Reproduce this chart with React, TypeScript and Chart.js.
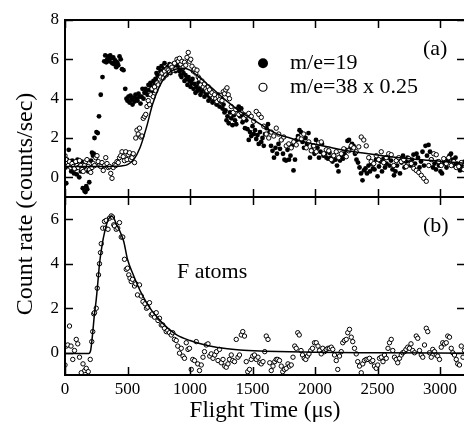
import { useEffect, useRef } from 'react';
import { Chart, registerables } from 'chart.js';

Chart.register(...registerables);

const SERIF = '"Liberation Serif", "Times New Roman", serif';

// ---- axis ticks ----
const xTickValues = [0, 500, 1000, 1500, 2000, 2500, 3000];
const topYTicks = [0, 2, 4, 6, 8];
const bottomYTicks = [0, 2, 4, 6];
const xRange = [0, 3200];
const topYRange = [-1, 8];
const bottomYRange = [-1, 7];

// ---- panel (a): m/e = 19 (filled) ----
const m19: [number, number][] = [
  [4,0.5],[10,-0.3],[16,0.9],[22,0.6],[30,1.4],[36,0.75],[44,0.55],[50,0.3],[58,0.85],[64,0.6],[72,0.2],[80,0.7],[86,0.45],[94,0.15],[100,0.9],[108,0.55],[114,0.0],[120,0.6],[128,0.3],[134,0.8],[142,-0.55],[150,0.5],[156,-0.7],[164,-0.75],[170,-0.45],[178,-0.6],[186,0.3],[194,-0.25],[200,0.5],[208,0.85],[216,1.25],[224,1.1],[230,1.2],[236,2.0],[244,1.1],[252,2.3],[262,2.25],[272,3.1],[286,4.2],[300,5.1],
  [314,5.9],[322,6.2],[330,5.85],[338,6.0],[346,6.15],[354,5.9],[362,6.2],[370,6.05],[378,5.8],[386,6.1],[394,5.75],[402,5.95],[410,5.6],[418,5.85],[426,5.7],[436,6.15],[446,6.0],[456,5.5],[468,5.45],
  [482,4.5],[492,4.0],[500,3.9],[508,4.1],[516,3.8],[524,4.15],[532,3.95],[540,3.7],[548,4.05],[556,3.85],[564,4.2],[572,4.0],[580,3.9],[588,4.25],[596,4.1],[604,3.75],[612,4.1],[620,4.5],[628,4.0],[636,4.3],[644,4.5],[652,4.4],[660,4.2],[668,4.7],[676,4.45],[684,4.8],[692,4.6],[700,4.4],[708,4.9],[716,4.7],[724,5.0],[732,5.3],[740,5.2],[748,5.55],[756,5.1],[764,5.4],[772,5.65],[780,5.3],[788,5.5],[796,5.8],[804,5.5],[812,5.2],[820,5.6],[828,5.45],[836,5.75],[844,5.3],[852,5.6],[860,5.7],[868,5.5],[876,5.8],[884,5.4],[892,5.65],[900,5.55],[908,5.7],[916,5.4],[924,5.2],[932,5.1],[940,5.5],[948,5.3],[956,4.9],[964,5.2],[972,5.0],[980,4.7],[988,5.1],[996,4.9],[1004,4.6],[1012,4.8],[1020,5.0],[1028,4.5],[1036,4.75],[1044,4.3],[1052,4.6],[1060,4.4],[1068,4.8],[1076,4.5],[1084,4.2],[1092,4.35],[1100,4.7],[1108,4.5],[1116,4.1],[1124,4.3],[1132,4.5],[1140,4.2],[1148,3.9],[1156,4.1],[1164,4.4],[1172,4.0],[1180,3.8],[1188,4.2],[1196,3.95],[1204,4.1],[1212,3.7],[1220,3.9],[1228,4.2],[1236,3.6],[1244,3.85],[1252,4.0],[1260,3.5],[1268,3.7],[1276,3.3],[1284,3.4],[1292,2.9],[1300,3.1],[1310,2.75],[1320,3.3],[1330,3.0],[1340,2.65],[1350,3.15],[1360,2.9],[1370,2.7],[1380,3.4],[1390,3.6],[1400,3.1],[1410,3.5],[1420,2.8],[1430,3.2],[1440,2.5],[1450,2.9],[1460,2.45],[1470,1.9],[1480,2.3],[1490,2.1],[1500,2.6],[1510,2.2],[1520,2.4],[1530,1.95],[1540,2.15],[1550,1.7],[1560,2.3],[1570,1.8],[1580,2.0],[1590,1.6],[1600,2.2],[1612,2.5],[1624,2.7],[1636,2.3],[1648,1.6],[1660,1.35],[1672,1.0],[1684,1.5],[1696,1.2],[1708,1.7],[1720,1.45],[1732,1.9],[1744,1.2],[1756,0.9],[1768,0.85],[1780,1.4],[1792,0.9],[1804,1.1],[1816,1.6],[1828,0.35],[1840,0.9],[1852,1.9],[1864,2.1],[1876,2.4],[1888,2.3],[1900,1.8],[1912,1.5],[1924,2.0],[1936,1.7],[1948,2.25],[1960,1.0],[1972,1.4],[1984,1.6],[1996,1.2],[2008,1.9],[2020,1.5],[2032,1.0],[2044,1.3],[2056,1.7],[2068,1.1],[2080,1.2],[2092,1.0],[2104,0.95],[2116,1.25],[2128,1.0],[2140,0.8],[2152,1.1],[2164,0.9],[2176,0.6],[2188,0.3],[2200,0.85],[2212,1.1],[2224,0.95],[2236,1.2],[2248,1.4],[2260,1.85],[2272,1.9],[2284,1.5],[2296,1.7],[2308,1.6],[2320,1.2],[2332,0.9],[2344,0.75],[2356,0.5],[2368,0.2],[2380,-0.15],[2392,0.35],[2404,0.45],[2416,0.2],[2428,0.6],[2440,0.3],[2452,0.7],[2464,0.45],[2476,0.4],[2488,0.9],[2500,0.05],[2512,0.55],[2524,0.8],[2536,0.3],[2548,0.95],[2560,0.5],[2572,0.7],[2584,1.0],[2596,0.6],[2608,0.85],[2620,0.4],[2632,0.1],[2644,0.3],[2656,0.6],[2668,0.9],[2680,0.2],[2692,0.75],[2704,1.1],[2716,0.5],[2728,0.8],[2740,1.0],[2752,0.85],[2764,0.6],[2776,0.9],[2788,1.15],[2800,0.7],[2812,1.2],[2824,1.0],[2836,0.5],[2848,0.8],[2860,1.3],[2872,0.6],[2884,1.6],[2896,1.1],[2908,1.65],[2920,1.3],[2932,0.9],[2944,0.5],[2956,0.7],[2968,0.4],[2980,0.8],[2992,0.6],[3004,0.3],[3016,0.2],[3028,0.7],[3040,0.9],[3052,0.5],[3064,0.8],[3076,1.1],[3088,1.2],[3100,0.9],[3112,0.6],[3124,1.0],[3136,0.7],[3148,0.5],[3160,0.35],[3172,0.6],[3184,0.4],[3196,0.8],
];

// ---- panel (a): m/e = 38 x 0.25 (open) ----
const m38: [number, number][] = [
  [0,1.1],[8,0.9],[16,0.7],[26,0.6],[36,0.8],[46,0.5],[56,0.7],[66,0.55],[76,0.45],[86,0.8],[96,0.6],[106,0.5],[116,0.85],[126,0.6],[136,0.4],[146,0.3],[156,0.6],[166,0.8],[176,0.9],[186,0.55],[196,0.4],[206,0.25],[216,0.5],[226,0.7],[236,0.6],[246,1.0],[256,1.1],[266,0.8],[276,0.6],[286,0.55],[296,0.75],[306,0.35],[316,0.6],[326,1.0],[336,0.7],[346,0.5],[356,0.55],[366,0.2],[376,-0.05],[386,0.5],[396,0.65],[406,0.6],[416,0.8],[426,0.75],[436,1.0],[446,1.1],[456,1.3],[466,1.05],[476,0.85],[486,1.3],[496,0.9],[506,1.15],[516,1.25],[526,0.9],[536,1.0],[546,1.2],[556,0.75],[566,2.0],[576,2.4],[586,2.2],[596,2.5],[606,2.05],[616,2.1],[626,3.0],[636,3.1],[646,3.2],[656,3.6],[666,3.9],[676,3.7],[686,4.2],[696,4.5],[706,4.1],[716,4.6],[726,4.4],[736,4.8],[746,4.7],[756,5.0],[766,5.1],[776,5.3],[786,5.05],[796,5.4],[806,5.2],[816,5.5],[826,5.45],[836,5.35],[846,5.7],[856,5.6],[866,5.45],[876,5.8],[886,5.5],[896,6.0],[906,5.9],[916,6.05],[926,5.75],[936,5.9],[946,5.6],[956,5.85],[966,5.7],[976,6.1],[986,6.35],[996,5.9],[1006,6.0],[1016,5.65],[1026,5.4],[1036,5.5],[1046,5.3],[1056,5.45],[1066,5.1],[1076,5.0],[1086,4.7],[1096,4.9],[1106,4.6],[1116,4.75],[1126,4.5],[1136,4.4],[1146,4.6],[1156,4.45],[1166,4.2],[1176,4.3],[1186,4.05],[1196,4.2],[1206,4.0],[1216,3.85],[1226,4.1],[1236,3.95],[1246,4.15],[1256,3.9],[1266,4.35],[1276,4.25],[1286,4.45],[1296,4.55],[1306,4.2],[1316,4.0],[1330,3.6],[1346,3.3],[1366,3.45],[1390,3.2],[1410,3.3],[1430,3.0],[1450,3.15],[1470,3.25],[1490,3.1],[1510,2.85],[1530,3.35],[1550,3.2],[1570,3.05],[1590,2.6],[1610,2.2],[1630,2.0],[1650,2.3],[1670,2.1],[1690,2.5],[1710,2.2],[1730,1.9],[1750,2.05],[1770,1.6],[1790,1.7],[1810,1.5],[1830,1.8],[1850,1.65],[1870,2.0],[1890,1.95],[1910,2.2],[1930,1.5],[1950,1.8],[1970,1.35],[1990,1.6],[2010,1.3],[2030,1.75],[2050,1.8],[2070,1.2],[2090,1.4],[2110,1.35],[2130,0.9],[2150,1.1],[2170,1.3],[2190,1.0],[2210,1.2],[2230,1.45],[2250,1.05],[2270,1.35],[2290,1.6],[2310,1.5],[2330,1.3],[2350,1.55],[2370,2.05],[2390,1.9],[2410,1.6],[2430,1.0],[2450,0.8],[2470,0.7],[2490,1.1],[2510,0.9],[2530,1.3],[2550,0.75],[2570,1.0],[2590,1.2],[2610,1.15],[2630,0.6],[2650,0.85],[2670,1.0],[2690,0.8],[2710,0.9],[2730,0.55],[2750,0.95],[2770,0.7],[2790,0.45],[2810,0.35],[2830,0.25],[2850,0.1],[2870,-0.05],[2890,-0.2],[2910,0.6],[2930,0.9],[2950,1.2],[2970,1.15],[2990,0.8],[3010,0.6],[3030,0.95],[3050,0.7],[3070,1.0],[3090,0.6],[3110,0.8],[3130,0.5],[3150,0.55],[3170,0.75],[3190,0.4],
];

// ---- panel (a): fitted curve ----
const fitTop: [number, number][] = [
  [0,0.55],[100,0.55],[200,0.55],[300,0.55],[400,0.56],[450,0.58],[500,0.65],[550,0.9],[600,1.5],[650,2.5],[700,3.7],[750,4.55],[800,5.1],[850,5.4],[900,5.52],[950,5.55],[1000,5.45],[1100,4.95],[1200,4.4],[1300,3.85],[1400,3.35],[1500,2.95],[1600,2.55],[1700,2.2],[1800,2.0],[1900,1.82],[2000,1.68],[2100,1.55],[2200,1.42],[2400,1.22],[2500,1.13],[2600,1.05],[2800,0.92],[3000,0.82],[3200,0.72],
];

// ---- panel (b): F atoms (open) ----
const fAtoms: [number, number][] = [
  [0,-0.55],[10,0.3],[22,0.35],[36,1.2],[48,0.3],[62,-0.3],[76,0.1],[90,0.6],[102,0.4],[116,-0.2],[130,-0.9],[144,-0.5],[158,-0.8],[170,-0.7],[186,-0.85],[202,-0.3],[214,0.5],[222,0.95],[230,1.75],[236,1.8],[250,2.0],[258,2.9],[268,3.5],[276,4.0],[284,4.5],[290,4.9],[302,5.6],[316,5.9],[324,5.6],[330,5.95],[344,5.55],[356,6.05],[370,6.15],[380,6.1],[390,5.75],[396,5.7],[410,5.55],[422,5.6],[436,5.85],[450,5.2],[462,5.2],[476,4.2],[490,3.75],[500,3.8],[510,3.5],[520,3.35],[530,3.2],[540,3.3],[556,3.0],[566,3.1],[580,2.6],[596,3.05],[610,2.55],[624,2.3],[640,2.2],[652,2.0],[662,2.05],[676,2.25],[690,1.7],[700,1.75],[716,1.6],[730,1.8],[744,1.45],[756,1.55],[770,1.25],[782,1.25],[796,1.1],[810,0.95],[822,1.0],[836,0.9],[850,0.8],[862,0.9],[876,0.6],[890,0.55],[902,0.3],[916,-0.02],[930,0.2],[944,-0.15],[956,-0.25],[970,0.45],[984,0.15],[996,0.2],[1010,-0.75],[1022,-0.3],[1036,-0.35],[1050,0.5],[1062,-0.5],[1076,-0.8],[1090,-0.55],[1104,-0.2],[1116,0.05],[1130,0.35],[1144,0.4],[1158,-0.15],[1170,-0.05],[1184,-0.25],[1198,-0.1],[1212,0.05],[1224,-0.35],[1236,0.15],[1250,-0.45],[1264,-0.3],[1278,-0.6],[1290,-0.65],[1304,-0.5],[1316,-0.3],[1330,-0.1],[1342,-0.35],[1356,-0.4],[1370,0.6],[1384,-0.2],[1396,-0.1],[1410,0.8],[1422,0.95],[1436,0.75],[1450,-0.4],[1462,-0.85],[1476,-0.75],[1490,-0.3],[1502,-0.15],[1516,-0.1],[1530,-0.3],[1544,-0.2],[1558,-0.45],[1570,-0.5],[1584,-0.4],[1598,0.05],[1610,0.75],[1624,0.6],[1638,-0.45],[1650,-0.8],[1664,-0.6],[1678,-0.4],[1690,-0.3],[1702,-0.3],[1716,-0.35],[1730,-0.6],[1742,-0.85],[1756,-0.75],[1770,-0.7],[1784,-0.5],[1796,-0.6],[1810,-0.55],[1824,-0.2],[1838,0.3],[1850,0.2],[1862,0.9],[1874,0.8],[1888,0.1],[1900,-0.1],[1914,-0.25],[1926,-0.3],[1940,-0.15],[1952,-0.05],[1966,0.1],[1980,0.2],[1996,0.45],[2010,0.45],[2024,0.3],[2036,0.1],[2050,-0.05],[2062,0.2],[2076,0.05],[2090,0.15],[2104,0.2],[2116,0.2],[2130,0.25],[2142,0.15],[2156,-0.1],[2170,-0.35],[2182,-0.75],[2196,-0.15],[2210,0.05],[2222,0.45],[2236,0.55],[2250,0.6],[2262,0.9],[2276,1.05],[2290,0.7],[2302,0.5],[2316,0.2],[2330,-0.05],[2342,-0.4],[2356,-0.6],[2370,-0.9],[2382,-0.5],[2396,-0.35],[2410,-0.3],[2424,-0.3],[2436,-0.25],[2450,-0.4],[2462,-0.35],[2476,-0.6],[2490,-0.7],[2502,-0.55],[2516,-0.25],[2530,-0.2],[2544,-0.4],[2556,-0.1],[2570,-0.25],[2584,0.2],[2596,0.45],[2610,0.6],[2622,0.1],[2636,-0.2],[2650,-0.3],[2662,-0.45],[2676,-0.25],[2690,-0.1],[2702,0.0],[2716,0.05],[2728,0.15],[2742,0.25],[2756,0.2],[2768,0.4],[2782,0.1],[2796,0.0],[2810,0.75],[2822,0.65],[2836,0.1],[2850,-0.1],[2862,-0.2],[2876,0.35],[2890,1.1],[2902,0.95],[2916,0.0],[2930,-0.2],[2942,0.15],[2956,0.05],[2970,-0.1],[2982,-0.15],[2996,-0.3],[3010,0.25],[3022,0.45],[3036,0.4],[3050,0.45],[3062,0.75],[3076,0.7],[3090,0.2],[3102,0.0],[3116,-0.1],[3130,-0.3],[3142,-0.5],[3156,-0.55],[3170,0.3],[3184,-0.2],[3196,0.1],
];

// ---- panel (b): fitted curve ----
const fitBottom: [number, number][] = [
  [0,-0.03],[100,-0.03],[190,-0.03],[205,0.1],[220,0.8],[235,1.7],[250,2.4],[265,3.3],[276,4.0],[300,4.95],[316,5.4],[340,5.9],[360,6.1],[375,6.13],[390,6.05],[410,5.8],[440,5.45],[470,5.0],[500,4.2],[550,3.45],[600,2.8],[650,2.28],[700,1.85],[750,1.52],[800,1.22],[850,0.98],[900,0.78],[1000,0.55],[1100,0.38],[1200,0.26],[1300,0.18],[1400,0.12],[1600,0.07],[1800,0.04],[2000,0.02],[2500,0.0],[3200,-0.02],
];

// ---- annotation anchors (data coordinates) ----
const labelA = { x: 2864, y: 6.52, text: '(a)' };
const labelB = { x: 2864, y: 5.7, text: '(b)' };
const labelF = { x: 896, y: 3.63, text: 'F atoms' };
const legendItems = [
  { text: 'm/e=19', filled: true, markerX: 1584, textX: 1800, y: 5.8 },
  { text: 'm/e=38 x 0.25', filled: false, markerX: 1584, textX: 1800, y: 4.58 },
];

const toXY = (arr: [number, number][]) => arr.map(([x, y]) => ({ x, y }));

function framePlugin(id: string, yTicks: number[]) {
  return {
    id,
    afterDatasetsDraw(chart: any) {
      const { ctx, chartArea: a, scales } = chart;
      const xs = scales.x;
      const ys = scales.y;
      ctx.save();
      ctx.strokeStyle = '#000';
      ctx.lineWidth = 2;
      ctx.strokeRect(a.left, a.top, a.right - a.left, a.bottom - a.top);
      ctx.lineWidth = 1.5;
      ctx.beginPath();
      for (const v of xTickValues) {
        const px = Math.round(xs.getPixelForValue(v)) + 0.5;
        ctx.moveTo(px, a.top);
        ctx.lineTo(px, a.top + 8);
        ctx.moveTo(px, a.bottom);
        ctx.lineTo(px, a.bottom - 8);
      }
      for (const v of yTicks) {
        const py = Math.round(ys.getPixelForValue(v)) + 0.5;
        ctx.moveTo(a.left, py);
        ctx.lineTo(a.left + 8, py);
        ctx.moveTo(a.right, py);
        ctx.lineTo(a.right - 8, py);
      }
      ctx.stroke();
      ctx.restore();
    },
  };
}

const topNotes = {
  id: 'topNotes',
  afterDraw(chart: any) {
    const { ctx, scales } = chart;
    const xs = scales.x;
    const ys = scales.y;
    ctx.save();
    ctx.fillStyle = '#000';
    ctx.strokeStyle = '#000';
    ctx.font = `22px ${SERIF}`;
    ctx.textBaseline = 'middle';
    ctx.textAlign = 'left';
    ctx.fillText(labelA.text, xs.getPixelForValue(labelA.x), ys.getPixelForValue(labelA.y));
    for (const it of legendItems) {
      const mx = xs.getPixelForValue(it.markerX);
      const my = ys.getPixelForValue(it.y);
      ctx.beginPath();
      if (it.filled) {
        ctx.arc(mx, my, 5, 0, Math.PI * 2);
        ctx.fill();
      } else {
        ctx.lineWidth = 1.2;
        ctx.arc(mx, my, 4, 0, Math.PI * 2);
        ctx.stroke();
      }
      ctx.fillText(it.text, xs.getPixelForValue(it.textX), my);
    }
    ctx.restore();
  },
};

const bottomNotes = {
  id: 'bottomNotes',
  afterDraw(chart: any) {
    const { ctx, scales } = chart;
    const xs = scales.x;
    const ys = scales.y;
    ctx.save();
    ctx.fillStyle = '#000';
    ctx.font = `22px ${SERIF}`;
    ctx.textBaseline = 'middle';
    ctx.textAlign = 'left';
    ctx.fillText(labelB.text, xs.getPixelForValue(labelB.x), ys.getPixelForValue(labelB.y));
    ctx.fillText(labelF.text, xs.getPixelForValue(labelF.x), ys.getPixelForValue(labelF.y));
    ctx.restore();
  },
};

const tickFont = { family: SERIF, size: 17 };

function yScale(range: number[], ticks: number[]) {
  return {
    type: 'linear' as const,
    min: range[0],
    max: range[1],
    afterBuildTicks: (s: any) => { s.ticks = ticks.map((v) => ({ value: v })); },
    afterFit: (s: any) => { s.width = 65; s.paddingTop = 0; s.paddingBottom = 0; },
    grid: { display: false, drawTicks: false },
    border: { display: false },
    ticks: { font: tickFont, color: '#000', padding: 6, callback: (v: any) => String(v) },
  };
}

const lineDs = (data: [number, number][]) => ({
  data: toXY(data),
  showLine: true,
  borderColor: '#000',
  borderWidth: 1.5,
  pointRadius: 0,
  cubicInterpolationMode: 'monotone' as const,
  fill: false,
});

const openDs = (data: [number, number][]) => ({
  data: toXY(data),
  pointRadius: 2.2,
  pointBorderWidth: 1,
  pointBorderColor: '#000',
  pointBackgroundColor: '#fff',
  showLine: false,
});

const filledDs = (data: [number, number][]) => ({
  data: toXY(data),
  pointRadius: 2.4,
  pointBorderWidth: 0,
  pointBorderColor: '#000',
  pointBackgroundColor: '#000',
  showLine: false,
});

const baseOptions = {
  responsive: false,
  maintainAspectRatio: false,
  animation: false as const,
  devicePixelRatio: 1,
  events: [] as any[],
  plugins: { legend: { display: false }, tooltip: { enabled: false } },
};

export default function App() {
  const topRef = useRef<HTMLCanvasElement>(null);
  const botRef = useRef<HTMLCanvasElement>(null);

  useEffect(() => {
    const top = new Chart(topRef.current as HTMLCanvasElement, {
      type: 'scatter',
      data: { datasets: [lineDs(fitTop), openDs(m38), filledDs(m19)] as any },
      options: {
        ...baseOptions,
        layout: { padding: { top: 20, right: 5, bottom: 225, left: 0 } },
        scales: {
          x: { type: 'linear', min: xRange[0], max: xRange[1], display: false },
          y: yScale(topYRange, topYTicks),
        },
      } as any,
      plugins: [framePlugin('frameTop', topYTicks), topNotes],
    });

    const bot = new Chart(botRef.current as HTMLCanvasElement, {
      type: 'scatter',
      data: { datasets: [lineDs(fitBottom), openDs(fAtoms)] as any },
      options: {
        ...baseOptions,
        layout: { padding: { top: 197, right: 5, bottom: 0, left: 0 } },
        scales: {
          x: {
            type: 'linear',
            min: xRange[0],
            max: xRange[1],
            afterBuildTicks: (s: any) => { s.ticks = xTickValues.map((v) => ({ value: v })); },
            afterFit: (s: any) => { s.height = 47; s.paddingLeft = 0; s.paddingRight = 0; },
            grid: { display: false, drawTicks: false },
            border: { display: false },
            ticks: { font: tickFont, color: '#000', padding: 4, maxRotation: 0, autoSkip: false, callback: (v: any) => String(v) },
            title: {
              display: true,
              text: 'Flight Time (μs)',
              color: '#000',
              font: { family: SERIF, size: 23, lineHeight: 1 },
              padding: 0,
            },
          },
          y: yScale(bottomYRange, bottomYTicks),
        },
      } as any,
      plugins: [framePlugin('frameBottom', bottomYTicks), bottomNotes],
    });

    return () => {
      top.destroy();
      bot.destroy();
    };
  }, []);

  const canvasStyle: React.CSSProperties = { position: 'absolute', left: 0, top: 0, width: 470, height: 422 };

  return (
    <div style={{ position: 'fixed', left: 0, top: 0, width: 464, height: 422, overflow: 'hidden', background: '#fff' }}>
      <canvas ref={topRef} width={470} height={422} style={canvasStyle} />
      <canvas ref={botRef} width={470} height={422} style={canvasStyle} />
      <div
        style={{
          position: 'absolute',
          left: 24 - 150,
          top: 204 - 15,
          width: 300,
          height: 30,
          lineHeight: '30px',
          textAlign: 'center',
          transform: 'rotate(-90deg)',
          fontFamily: SERIF,
          fontSize: 24,
          color: '#000',
          whiteSpace: 'nowrap',
        }}
      >
        Count rate (counts/sec)
      </div>
    </div>
  );
}
